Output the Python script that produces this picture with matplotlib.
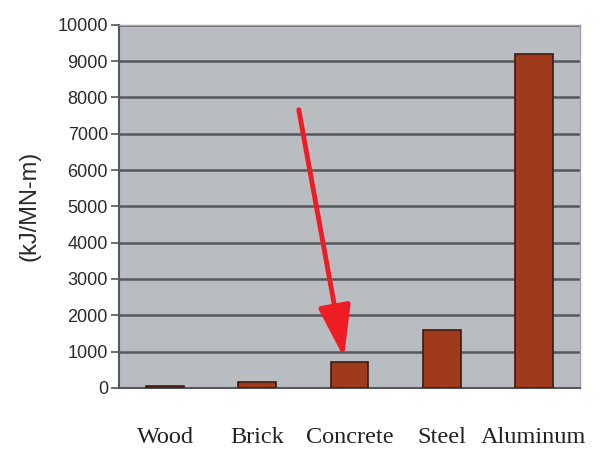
import numpy as np
import matplotlib
matplotlib.use('Agg')
import matplotlib.pyplot as plt

materials = ['Wood', 'Brick', 'Concrete', 'Steel', 'Aluminum']
energy = [40, 175, 725, 1600, 9190]   # kJ/MN-m
yticks = list(range(0, 10001, 1000))

# arrow pointing at concrete (data coords)
arrow_tail = (1.45, 7660)
arrow_head = (1.94, 830)

fig = plt.figure(figsize=(6.01, 4.51), dpi=100)
ax = fig.add_axes([0.198, 0.14, 0.767, 0.805])
ax.set_facecolor('#b9bcc0')

x = np.arange(len(materials))
ax.yaxis.grid(True, color='#55595e', linewidth=1.8)
ax.set_axisbelow(True)
ax.bar(x, energy, width=0.41, color='#a03a1c', edgecolor='#3a1a10', linewidth=1.2, zorder=3)

ax.set_xlim(-0.5, len(materials) - 0.5)
ax.set_ylim(0, 10000)
ax.set_yticks(yticks)
ax.set_yticklabels([str(v) for v in yticks], family='Liberation Sans', fontsize=13, color='#2a2a2a')
ax.set_xticks(x)
ax.set_xticklabels(materials, family='Liberation Serif', fontsize=17.5, color='#222222')
ax.tick_params(axis='x', length=0, pad=28)
ax.tick_params(axis='y', length=6, width=1.2, color='#555555', pad=2)

for s in ['top', 'right']:
    ax.spines[s].set_color('#a0a3a7')
    ax.spines[s].set_linewidth(1)
for s in ['left', 'bottom']:
    ax.spines[s].set_color('#55595e')
    ax.spines[s].set_linewidth(1.5)

ax.set_ylabel('(kJ/MN-m)', family='Liberation Sans', fontsize=17, color='#2a2a2a', labelpad=12)

ax.annotate('', xy=arrow_head, xytext=arrow_tail,
            arrowprops=dict(arrowstyle='-|>,head_length=3.2,head_width=1.0',
                            color='#ee1c24', lw=3.5, shrinkA=0, shrinkB=0),
            zorder=5)

fig.savefig('out.png', dpi=100)
